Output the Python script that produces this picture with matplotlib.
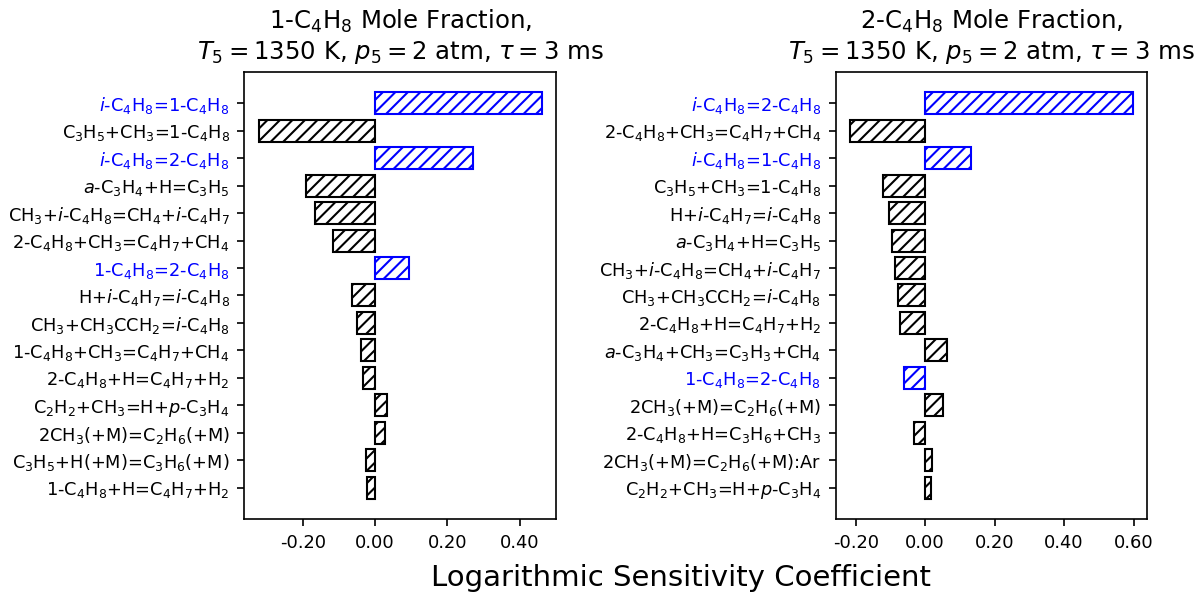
import matplotlib
matplotlib.use("Agg")
import matplotlib.pyplot as plt
import numpy as np

# 1-C4H8 sensitivity (top to bottom)
rxn_1c4h8 = [
    "$i$-C$_4$H$_8$=1-C$_4$H$_8$",
    "C$_3$H$_5$+CH$_3$=1-C$_4$H$_8$",
    "$i$-C$_4$H$_8$=2-C$_4$H$_8$",
    "$a$-C$_3$H$_4$+H=C$_3$H$_5$",
    "CH$_3$+$i$-C$_4$H$_8$=CH$_4$+$i$-C$_4$H$_7$",
    "2-C$_4$H$_8$+CH$_3$=C$_4$H$_7$+CH$_4$",
    "1-C$_4$H$_8$=2-C$_4$H$_8$",
    "H+$i$-C$_4$H$_7$=$i$-C$_4$H$_8$",
    "CH$_3$+CH$_3$CCH$_2$=$i$-C$_4$H$_8$",
    "1-C$_4$H$_8$+CH$_3$=C$_4$H$_7$+CH$_4$",
    "2-C$_4$H$_8$+H=C$_4$H$_7$+H$_2$",
    "C$_2$H$_2$+CH$_3$=H+$p$-C$_3$H$_4$",
    "2CH$_3$(+M)=C$_2$H$_6$(+M)",
    "C$_3$H$_5$+H(+M)=C$_3$H$_6$(+M)",
    "1-C$_4$H$_8$+H=C$_4$H$_7$+H$_2$",
]
sens_1c4h8 = [0.462, -0.323, 0.270, -0.191, -0.166, -0.116, 0.095, -0.065,
              -0.050, -0.040, -0.033, 0.033, 0.028, -0.024, -0.023]
iso_1c4h8 = [True, False, True, False, False, False, True, False,
             False, False, False, False, False, False, False]

# 2-C4H8 sensitivity (top to bottom)
rxn_2c4h8 = [
    "$i$-C$_4$H$_8$=2-C$_4$H$_8$",
    "2-C$_4$H$_8$+CH$_3$=C$_4$H$_7$+CH$_4$",
    "$i$-C$_4$H$_8$=1-C$_4$H$_8$",
    "C$_3$H$_5$+CH$_3$=1-C$_4$H$_8$",
    "H+$i$-C$_4$H$_7$=$i$-C$_4$H$_8$",
    "$a$-C$_3$H$_4$+H=C$_3$H$_5$",
    "CH$_3$+$i$-C$_4$H$_8$=CH$_4$+$i$-C$_4$H$_7$",
    "CH$_3$+CH$_3$CCH$_2$=$i$-C$_4$H$_8$",
    "2-C$_4$H$_8$+H=C$_4$H$_7$+H$_2$",
    "$a$-C$_3$H$_4$+CH$_3$=C$_3$H$_3$+CH$_4$",
    "1-C$_4$H$_8$=2-C$_4$H$_8$",
    "2CH$_3$(+M)=C$_2$H$_6$(+M)",
    "2-C$_4$H$_8$+H=C$_3$H$_6$+CH$_3$",
    "2CH$_3$(+M)=C$_2$H$_6$(+M):Ar",
    "C$_2$H$_2$+CH$_3$=H+$p$-C$_3$H$_4$",
]
sens_2c4h8 = [0.598, -0.217, 0.131, -0.122, -0.104, -0.096, -0.086, -0.079,
              -0.073, 0.063, -0.060, 0.052, -0.033, 0.021, 0.017]
iso_2c4h8 = [True, False, True, False, False, False, False, False,
             False, False, True, False, False, False, False]

titles = [
    "1-C$_4$H$_8$ Mole Fraction,\n$T_5 = 1350$ K, $p_5 = 2$ atm, $\\tau = 3$ ms",
    "2-C$_4$H$_8$ Mole Fraction,\n$T_5 = 1350$ K, $p_5 = 2$ atm, $\\tau = 3$ ms",
]

fig = plt.figure(figsize=(1199 / 150, 596 / 150), dpi=150)
ax1 = fig.add_axes([0.2038, 0.1287, 0.260, 0.751])
ax2 = fig.add_axes([0.697, 0.1287, 0.2596, 0.751])

for ax, rxns, vals, iso, title in zip(
    [ax1, ax2],
    [rxn_1c4h8, rxn_2c4h8],
    [sens_1c4h8, sens_2c4h8],
    [iso_1c4h8, iso_2c4h8],
    titles,
):
    y = np.arange(len(rxns))
    colors = ["blue" if f else "black" for f in iso]
    ax.barh(y, vals, height=0.8, color="white", edgecolor=colors,
            hatch="////", linewidth=1.0)
    ax.set_yticks(y)
    ax.set_yticklabels(rxns, fontsize=8.5)
    for lbl, c in zip(ax.get_yticklabels(), colors):
        lbl.set_color(c)
    ax.invert_yaxis()
    ax.xaxis.set_major_formatter(matplotlib.ticker.FormatStrFormatter("%.2f"))
    ax.tick_params(axis="x", labelsize=8.6)
    ax.set_title(title, fontsize=11.7)

ax1.set_xticks([-0.2, 0.0, 0.2, 0.4])
ax2.set_xticks([-0.2, 0.0, 0.2, 0.4, 0.6])

fig.text(0.568, 0.03, "Logarithmic Sensitivity Coefficient", ha="center",
         va="center", fontsize=14)

fig.savefig("out.png", dpi=150)
